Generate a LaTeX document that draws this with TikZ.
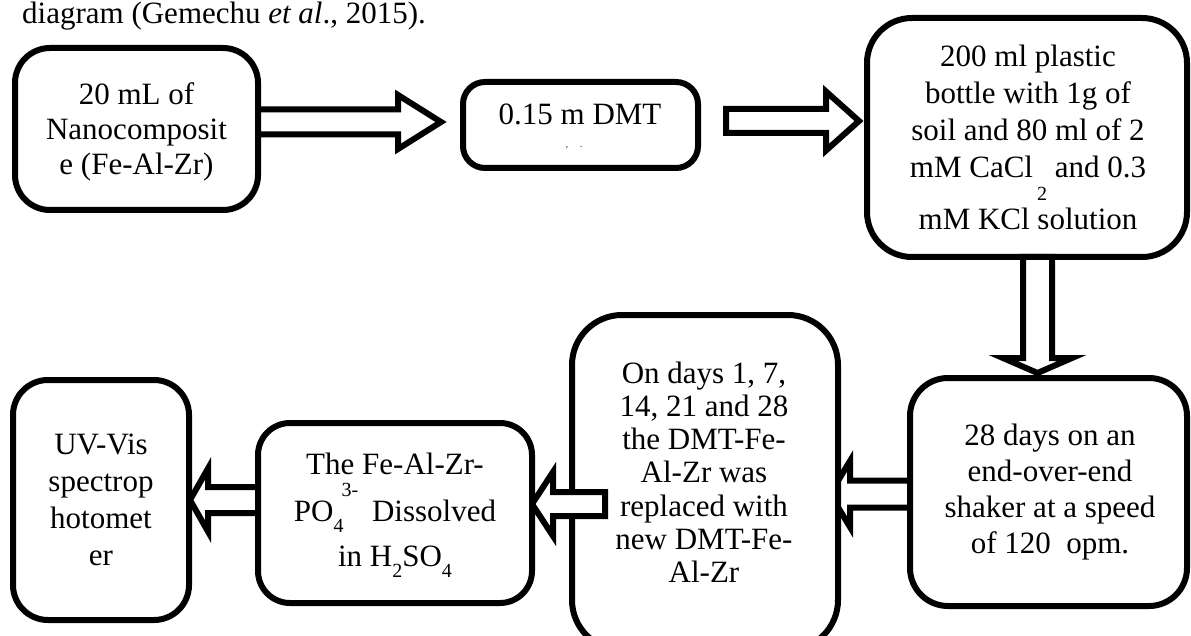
\documentclass[tikz,border=0pt]{standalone}
\usepackage{fontspec}
\setmainfont{Liberation Serif}
\usetikzlibrary{calc}
\pgfdeclarelayer{back}
\pgfdeclarelayer{front}
\pgfdeclarelayer{top}
\pgfsetlayers{back,main,front,top}
% horizontal block arrow: start, tip, shaft half height, head half height, head length
\newcommand\hblockarrow[5]{%
  \draw[blockarrow] let \p1=(#1), \p2=(#2), \n1={sign(\x2-\x1)} in
    (\x1,{\y2+#3}) -- ({\x2-(\n1)*#5},{\y2+#3}) -- ({\x2-(\n1)*#5},{\y2+#4})
    -- (\x2,\y2) -- ({\x2-(\n1)*#5},{\y2-#4}) -- ({\x2-(\n1)*#5},{\y2-#3})
    -- (\x1,{\y2-#3}) -- cycle;}
% vertical block arrow
\newcommand\vblockarrow[5]{%
  \draw[blockarrow] let \p1=(#1), \p2=(#2), \n1={sign(\y2-\y1)} in
    ({\x2+#3},\y1) -- ({\x2+#3},{\y2-(\n1)*#5}) -- ({\x2+#4},{\y2-(\n1)*#5})
    -- (\x2,\y2) -- ({\x2-#4},{\y2-(\n1)*#5}) -- ({\x2-#3},{\y2-(\n1)*#5})
    -- ({\x2-#3},\y1) -- cycle;}
\newcommand\smallscript{\fontsize{20}{20}\selectfont}
\newcommand\dropsub[2]{\raisebox{-#1}[0pt][0pt]{\smallscript #2}}
\newcommand\liftsup[2]{\raisebox{#1}[0pt][0pt]{\smallscript #2}}
\begin{document}
\begin{tikzpicture}[x=1pt,y=-1pt,
  box/.style={draw, line width=6pt, fill=white, rectangle, inner sep=0pt, outer sep=0pt},
  txt/.style={inner sep=0pt, outer sep=0pt, align=center, font=\fontsize{31}{35}\selectfont},
  blockarrow/.style={draw, fill=white, line width=6pt, line join=miter, miter limit=10}]
\useasboundingbox (0,0) rectangle (1191,636);
\begin{pgfonlayer}{back}
\fill[white] (0,0) rectangle (1191,636);
\end{pgfonlayer}

% caption fragment
\node[anchor=base west, inner sep=0pt, font=\fontsize{31}{35}\selectfont] (caption) at (22,24)
  {diagram (Gemechu \textit{et al}., 2015).};

% boxes
\node[box, rounded corners=35pt, minimum width=243pt, minimum height=162pt] (A) at (136.5,129) {};
\node[box, rounded corners=22pt, minimum width=235pt, minimum height=86pt] (B) at (580.5,125) {};
\node[box, rounded corners=45pt, minimum width=320pt, minimum height=239pt] (C) at (1027,137.5) {};
\node[box, rounded corners=38pt, minimum width=277pt, minimum height=228pt] (D) at (1048.5,492) {};
\node[box, rounded corners=50pt, minimum width=266pt, minimum height=335pt] (E) at (705,482.5) {};
\node[box, rounded corners=35pt, minimum width=176pt, minimum height=240pt] (G) at (101,500) {};
\begin{pgfonlayer}{top}
\node[box, rounded corners=32pt, minimum width=274pt, minimum height=180pt] (F) at (395,513) {};
\end{pgfonlayer}

% connector end points
\coordinate (t1) at (441,122);
\coordinate (s2) at (726,121);
\coordinate (t2) at (859,121);
\coordinate (t3) at (1037.5,373);
\coordinate (t4) at (830,494);
\coordinate (s5) at (605,504);
\coordinate (t5) at (532,504);
\coordinate (t6) at (190,500);

\begin{pgfonlayer}{front}
\hblockarrow{A.east}{t1}{12.5pt}{27pt}{43pt}
\hblockarrow{s2}{t2}{12pt}{29.5pt}{33pt}
\vblockarrow{C.south}{t3}{14.5pt}{34.5pt}{15pt}
\hblockarrow{s5}{t5}{12pt}{32pt}{21pt}
\end{pgfonlayer}

\begin{pgfonlayer}{back}
\hblockarrow{D.west}{t4}{13.5pt}{33pt}{20pt}
\hblockarrow{F.west}{t6}{13pt}{31.5pt}{18pt}
\end{pgfonlayer}

\begin{pgfonlayer}{top}
\node[txt] (Atext) at (136.5,133) {\strut 20 mL of\\Nanocomposit\\e (Fe-Al-Zr)\strut};
\node[txt] (Btext) at (580,118) {\strut 0.15 m DMT\strut};
\node[inner sep=0pt, font=\fontsize{9}{9}\selectfont] (Bmarks) at (574,148) {,\hspace{12pt}.};
\node[txt, font=\fontsize{31}{37}\selectfont] (Ctext) at (1028,141)
  {\strut 200 ml plastic\\bottle with 1g of\\soil and 80 ml of 2\\mM CaCl\hspace{4pt}\dropsub{23pt}{2} and 0.3\\[15pt]mM KCl solution\strut};
\node[txt, font=\fontsize{31}{36}\selectfont] (Dtext) at (1050,492)
  {\strut 28 days on an\\end-over-end\\shaker at a speed\\of 120\ \ opm.\strut};
\node[txt, font=\fontsize{31}{33.3}\selectfont] (Etext) at (704,476.3)
  {\strut On days 1, 7,\\14, 21 and 28\\the DMT-Fe-\\Al-Zr was\\replaced with\\new DMT-Fe-\\Al-Zr\strut};
\node[txt, font=\fontsize{31}{36}\selectfont] (Ftext) at (395,512.8)
  {\strut The Fe-Al-Zr-\\[11pt]PO\dropsub{11pt}{4}\hspace{-2pt}\liftsup{25pt}{3-}\hspace{6pt} Dissolved\\[9pt]in H\dropsub{11pt}{2}SO\dropsub{11pt}{4}\strut};
\node[txt, font=\fontsize{31}{37}\selectfont] (Gtext) at (101,503)
  {\strut UV-Vis\\spectrop\\hotomet\\er\strut};
\end{pgfonlayer}
\end{tikzpicture}
\end{document}
